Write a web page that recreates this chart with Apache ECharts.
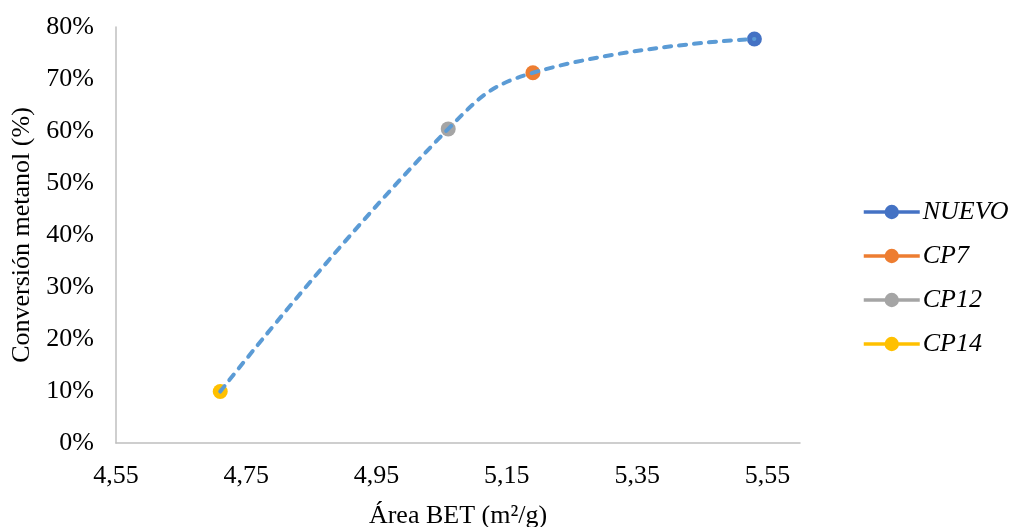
<!DOCTYPE html>
<html>
<head>
<meta charset="utf-8">
<script src="https://cdn.jsdelivr.net/npm/echarts@6/dist/echarts.min.js"></script>
<style>
  html, body { margin: 0; padding: 0; background: #fff; }
  #chart { width: 1013px; height: 527px; }
</style>
</head>
<body>
<div id="chart"></div>
<script>
// Catalyst samples: BET surface area vs. methanol conversion
const samples = ['NUEVO', 'CP7', 'CP12', 'CP14'];
const areaBET = [5.53, 5.19, 5.06, 4.71];          // m²/g
const conversion = [0.777, 0.712, 0.604, 0.099];   // fraction
const sampleColors = ['#4472C4', '#ED7D31', '#A5A5A5', '#FFC000'];
const xTicks = { min: 4.55, max: 5.6, step: 0.2 };
const yTicks = { min: 0, max: 0.8, step: 0.1 };

const FONT = "'Liberation Serif', 'Times New Roman', serif";

// Trend line joins the samples in order of increasing area
const trend = areaBET
  .map((x, i) => [x, conversion[i]])
  .sort((a, b) => a[0] - b[0]);

const pointSeries = samples.map((name, i) => ({
  name: name,
  type: 'line',
  data: [[areaBET[i], conversion[i]]],
  symbol: 'circle',
  symbolSize: 15,
  showSymbol: true,
  itemStyle: { color: sampleColors[i] },
  lineStyle: { color: sampleColors[i], width: 3.5 },
  z: 2
}));

const trendSeries = {
  name: 'tendencia',
  type: 'line',
  data: trend,
  smooth: 0.45,
  symbol: 'none',
  lineStyle: { color: '#5B9BD5', width: 4, type: [7, 8], cap: 'round' },
  z: 3
};

const chart = echarts.init(document.getElementById('chart'));
chart.setOption({
  animation: false,
  backgroundColor: '#fff',
  textStyle: { fontFamily: FONT },
  grid: { left: 116, top: 27, right: 213, bottom: 84, outerBoundsMode: 'none', containLabel: false },
  legend: {
    data: samples,
    orient: 'vertical',
    left: 862,
    top: 199,
    padding: 0,
    itemWidth: 56,
    itemHeight: 18,
    itemGap: 18,
    lineStyle: { width: 3.5 },
    textStyle: { fontFamily: FONT, fontSize: 26, fontStyle: 'italic', color: '#000', padding: [0, 0, 0, -2] }
  },
  xAxis: {
    type: 'value',
    min: xTicks.min,
    max: xTicks.max,
    interval: xTicks.step,
    name: 'Área BET (m²/g)',
    nameLocation: 'middle',
    nameGap: 60,
    nameTextStyle: { fontFamily: FONT, fontSize: 26, color: '#000' },
    axisLine: { show: true, lineStyle: { color: '#BFBFBF', width: 1.5 } },
    axisTick: { show: false },
    splitLine: { show: false },
    axisLabel: {
      fontFamily: FONT, fontSize: 26, color: '#000', margin: 20,
      showMaxLabel: false,
      formatter: v => v.toFixed(2).replace('.', ',')
    }
  },
  yAxis: {
    type: 'value',
    min: yTicks.min,
    max: yTicks.max,
    interval: yTicks.step,
    name: 'Conversión metanol (%)',
    nameLocation: 'middle',
    nameGap: 80,
    nameTextStyle: { fontFamily: FONT, fontSize: 26, color: '#000' },
    axisLine: { show: true, lineStyle: { color: '#BFBFBF', width: 1.5 } },
    axisTick: { show: false },
    splitLine: { show: false },
    axisLabel: {
      fontFamily: FONT, fontSize: 26, color: '#000', margin: 22,
      formatter: v => Math.round(v * 100) + '%'
    }
  },
  series: pointSeries.concat([trendSeries])
});
</script>
</body>
</html>
